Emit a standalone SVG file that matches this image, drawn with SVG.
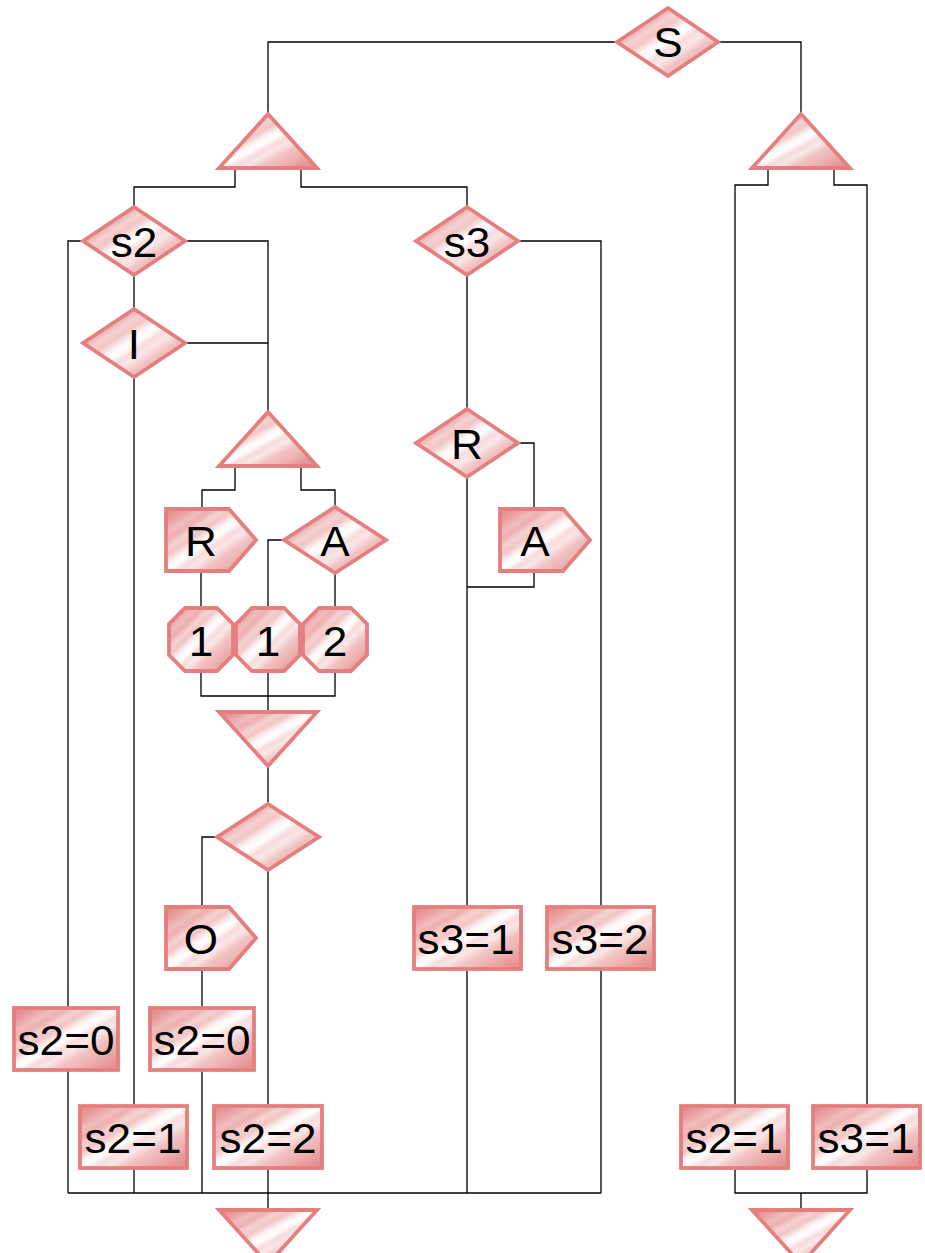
<svg xmlns="http://www.w3.org/2000/svg" width="925" height="1253" viewBox="0 0 925 1253">
  <defs>
    <!-- banded diagonal fill shared by all shapes -->
    <linearGradient id="fill" x1="0" y1="0" x2="1" y2="1">
      <stop offset="0" stop-color="#e38383"/>
      <stop offset="0.07" stop-color="#e79494"/>
      <stop offset="0.14" stop-color="#eba6a6"/>
      <stop offset="0.20" stop-color="#f0bcbc"/>
      <stop offset="0.26" stop-color="#edb0b0"/>
      <stop offset="0.32" stop-color="#f5d1d1"/>
      <stop offset="0.38" stop-color="#f2c5c5"/>
      <stop offset="0.45" stop-color="#fdf4f4"/>
      <stop offset="0.50" stop-color="#ffffff"/>
      <stop offset="0.56" stop-color="#f8dcdc"/>
      <stop offset="0.62" stop-color="#fae6e6"/>
      <stop offset="0.70" stop-color="#f1c2c2"/>
      <stop offset="0.78" stop-color="#eeb5b5"/>
      <stop offset="0.88" stop-color="#e89d9d"/>
      <stop offset="1" stop-color="#e48a8a"/>
    </linearGradient>
  </defs>
  <style>
    .shape { fill: url(#fill); stroke: #e57f7f; stroke-width: 3.8; stroke-linejoin: miter; }
    .label { font-family: "Liberation Sans", Arial, sans-serif; font-size: 42px; fill: #000; text-anchor: middle;
             transform-box: fill-box; transform-origin: center; transform: scaleX(1.05); }
    .wire { fill: none; stroke: #000; stroke-width: 1.3; }
  </style>

  <!-- connectors -->
  <g id="connectors" class="wire">
    <polyline points="617,42 268,42 268,114"/>
    <polyline points="718,42 801,42 801,114"/>
    <polyline points="235,168 235,187 134,187 134,207"/>
    <polyline points="301,168 301,187 467,187 467,207"/>
    <polyline points="83,241 68,241 68,1008"/>
    <polyline points="185,241 268,241 268,412"/>
    <line x1="134" y1="275" x2="134" y2="309"/>
    <polyline points="185,343 268,343"/>
    <line x1="134" y1="377" x2="134" y2="1105"/>
    <polyline points="235,466 235,490 202,490 202,509"/>
    <polyline points="301,466 301,490 335,490 335,507"/>
    <line x1="201" y1="571" x2="201" y2="608"/>
    <polyline points="284,540 268,540 268,608"/>
    <line x1="335" y1="573" x2="335" y2="608"/>
    <polyline points="201,671 201,696 335,696 335,671"/>
    <line x1="268" y1="671" x2="268" y2="712"/>
    <line x1="268" y1="766" x2="268" y2="804"/>
    <polyline points="217,837 202,837 202,907"/>
    <line x1="268" y1="870" x2="268" y2="1105"/>
    <line x1="202" y1="969" x2="202" y2="1008"/>
    <polyline points="518,241 601,241 601,907"/>
    <line x1="467" y1="275" x2="467" y2="409"/>
    <polyline points="518,443 534,443 534,509"/>
    <polyline points="534,571 534,587 467,587"/>
    <line x1="467" y1="477" x2="467" y2="907"/>
    <line x1="68" y1="1070" x2="68" y2="1193"/>
    <line x1="134" y1="1168" x2="134" y2="1193"/>
    <line x1="202" y1="1070" x2="202" y2="1193"/>
    <line x1="268" y1="1168" x2="268" y2="1210"/>
    <line x1="467" y1="969" x2="467" y2="1193"/>
    <line x1="601" y1="969" x2="601" y2="1193"/>
    <line x1="68" y1="1193" x2="601" y2="1193"/>
    <polyline points="768,168 768,185 735,185 735,1105"/>
    <polyline points="834,168 834,185 867,185 867,1105"/>
    <polyline points="735,1168 735,1193 867,1193 867,1168"/>
    <line x1="801" y1="1193" x2="801" y2="1210"/>
  </g>

  <!-- start choice -->
  <g id="node-S">
    <polygon class="shape" points="617,42 668,8 718,42 668,76"/>
    <text class="label" x="668" y="57">S</text>
  </g>
  <g id="fork-left">
    <polygon class="shape" points="268,114 317,168 219,168"/>
  </g>
  <g id="fork-right">
    <polygon class="shape" points="801,114 850,168 752,168"/>
  </g>

  <g id="node-s2">
    <polygon class="shape" points="83,241 134,207 185,241 134,275"/>
    <text class="label" x="134" y="257">s2</text>
  </g>
  <g id="node-I">
    <polygon class="shape" points="83,343 134,309 185,343 134,377"/>
    <text class="label" x="134" y="359">I</text>
  </g>
  <g id="node-s3">
    <polygon class="shape" points="416,241 467,207 518,241 467,275"/>
    <text class="label" x="467" y="257">s3</text>
  </g>

  <g id="fork-mid">
    <polygon class="shape" points="268,412 317,466 219,466"/>
  </g>

  <g id="node-R-send">
    <polygon class="shape" points="166,509 229,509 256,540 229,571 166,571"/>
    <text class="label" x="201" y="556">R</text>
  </g>
  <g id="node-A-choice">
    <polygon class="shape" points="284,540 335,507 386,540 335,573"/>
    <text class="label" x="335" y="556">A</text>
  </g>

  <g id="node-oct-1a">
    <polygon class="shape" points="185,608 217,608 233,624 233,655 217,671 185,671 169,655 169,624"/>
    <text class="label" x="201" y="656">1</text>
  </g>
  <g id="node-oct-1b">
    <polygon class="shape" points="252,608 284,608 300,624 300,655 284,671 252,671 236,655 236,624"/>
    <text class="label" x="268" y="656">1</text>
  </g>
  <g id="node-oct-2">
    <polygon class="shape" points="319,608 351,608 367,624 367,655 351,671 319,671 303,655 303,624"/>
    <text class="label" x="335" y="656">2</text>
  </g>

  <g id="join-mid">
    <polygon class="shape" points="219,712 317,712 268,766"/>
  </g>
  <g id="node-blank-choice">
    <polygon class="shape" points="217,837 268,804 319,837 268,870"/>
  </g>
  <g id="node-O-send">
    <polygon class="shape" points="166,907 229,907 256,938 229,969 166,969"/>
    <text class="label" x="201" y="954">O</text>
  </g>

  <g id="node-R-choice">
    <polygon class="shape" points="416,443 467,409 518,443 467,477"/>
    <text class="label" x="467" y="459">R</text>
  </g>
  <g id="node-A-send">
    <polygon class="shape" points="500,509 563,509 590,540 563,571 500,571"/>
    <text class="label" x="535" y="556">A</text>
  </g>

  <g id="node-s3-1">
    <rect class="shape" x="414" y="907" width="107" height="62"/>
    <text class="label" x="466" y="954">s3=1</text>
  </g>
  <g id="node-s3-2">
    <rect class="shape" x="547" y="907" width="107" height="62"/>
    <text class="label" x="600" y="954">s3=2</text>
  </g>
  <g id="node-s2-0-left">
    <rect class="shape" x="14" y="1008" width="104" height="62"/>
    <text class="label" x="66" y="1055">s2=0</text>
  </g>
  <g id="node-s2-0-mid">
    <rect class="shape" x="150" y="1008" width="104" height="62"/>
    <text class="label" x="202" y="1055">s2=0</text>
  </g>
  <g id="node-s2-1-left">
    <rect class="shape" x="80" y="1106" width="107" height="62"/>
    <text class="label" x="133" y="1153">s2=1</text>
  </g>
  <g id="node-s2-2">
    <rect class="shape" x="214" y="1106" width="108" height="62"/>
    <text class="label" x="268" y="1153">s2=2</text>
  </g>
  <g id="node-s2-1-right">
    <rect class="shape" x="681" y="1106" width="107" height="62"/>
    <text class="label" x="734" y="1153">s2=1</text>
  </g>
  <g id="node-s3-1-right">
    <rect class="shape" x="813" y="1106" width="107" height="62"/>
    <text class="label" x="866" y="1153">s3=1</text>
  </g>

  <g id="join-bottom-left">
    <polygon class="shape" points="219,1210 317,1210 268,1264"/>
  </g>
  <g id="join-bottom-right">
    <polygon class="shape" points="752,1210 850,1210 801,1264"/>
  </g>
</svg>
